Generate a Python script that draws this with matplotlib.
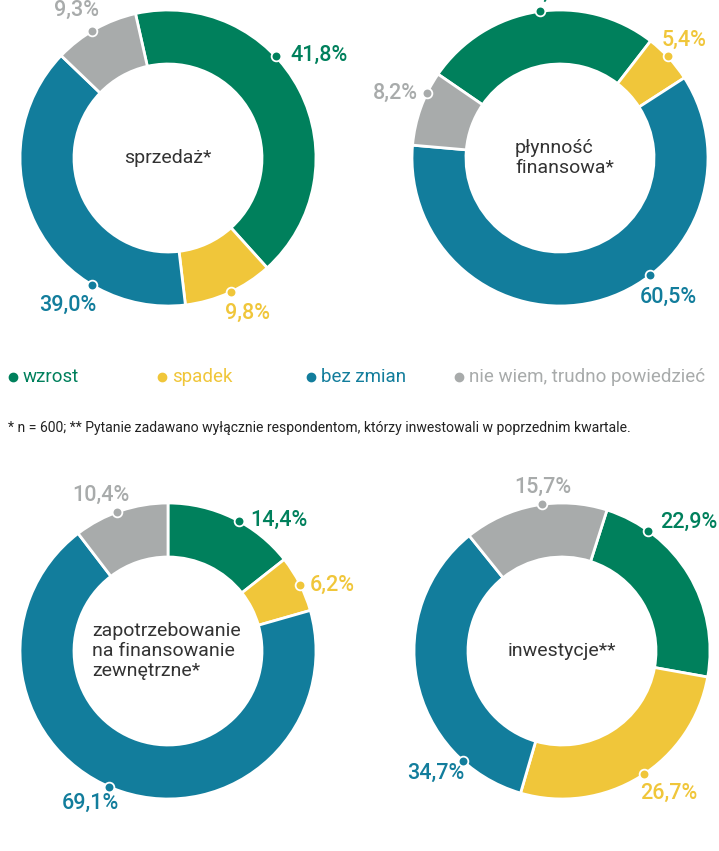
import matplotlib
matplotlib.use('Agg')
import matplotlib.pyplot as plt
import numpy as np

plt.rcParams['font.family'] = ['Roboto', 'DejaVu Sans']

# data
categories = ['wzrost', 'spadek', 'bez zmian', 'nie wiem, trudno powiedzieć']
colors = ['#00805c', '#f0c63a', '#127d9c', '#a8abab']
titles = ['sprzedaż*', 'płynność\nfinansowa*',
          'zapotrzebowanie\nna finansowanie\nzewnętrzne*', 'inwestycje**']
sprzedaz = [41.8, 9.8, 39.0, 9.3]
plynnosc = [25.9, 5.4, 60.5, 8.2]
zapotrzebowanie = [14.4, 6.2, 69.1, 10.4]
inwestycje = [22.9, 26.7, 34.7, 15.7]
footnote = '* n = 600; ** Pytanie zadawano wyłącznie respondentom, którzy inwestowali w poprzednim kwartale.'

W, H = 719, 851
R_OUT, R_IN = 148, 94

# layout (image pixels, y down): center, start angle (deg clockwise from top),
# dot angles, label anchors (x, y, ha), title anchor
layout = [
    dict(c=(168, 158), start=-12.7, dots=[46.6, 155, 210.8, 329.2],
         labels=[(290, 55, 'left'), (225, 313, 'left'), (96, 305, 'right'), (99, 10, 'right')],
         title=(168, 158, 'center')),
    dict(c=(560, 158), start=-55.5, dots=[-7.9, 46.6, 142.4, -63.8],
         labels=[(548, -7, 'center'), (662, 40, 'left'), (640, 297, 'left'), (418, 93, 'right')],
         title=(515, 158, 'left')),
    dict(c=(168, 651), start=0.0, dots=[28.6, 63.4, 203.3, -20.3],
         labels=[(250, 520, 'left'), (310, 585, 'left'), (119, 803, 'right'), (129, 495, 'right')],
         title=(92, 651, 'left')),
    dict(c=(562, 651), start=17.7, dots=[35.6, 146.4, 222.2, -7.7],
         labels=[(660, 522, 'left'), (640, 793, 'left'), (464, 773, 'right'), (543, 487, 'center')],
         title=(562, 651, 'center')),
]
series = [sprzedaz, plynnosc, zapotrzebowanie, inwestycje]

fig = plt.figure(figsize=(W / 100, H / 100), dpi=100)
ax = fig.add_axes([0, 0, 1, 1])

for vals, lay, title in zip(series, layout, titles):
    cx, cy = lay['c'][0], H - lay['c'][1]
    ax.pie(vals, colors=colors, startangle=90 - lay['start'], counterclock=False,
           radius=R_OUT, center=(cx, cy),
           wedgeprops=dict(width=R_OUT - R_IN, edgecolor='white', linewidth=2))
    for v, col, ang, (lx, ly, ha) in zip(vals, colors, lay['dots'], lay['labels']):
        t = np.deg2rad(ang)
        ax.plot(cx + R_OUT * np.sin(t), cy + R_OUT * np.cos(t), 'o', ms=7,
                mfc=col, mec='white', mew=1.3, zorder=5)
        ax.text(lx, H - ly, f'{v:.1f}'.replace('.', ',') + '%', color=col,
                fontsize=15.5, fontweight='medium', ha=ha, va='center')
    tx, ty, tha = lay['title']
    ax.text(tx, H - ty, title, ha=tha, va='center', fontsize=14,
            fontweight='normal', color='#333333', linespacing=1.15,
            multialignment='left')

# legend
leg_x = [13, 162, 311, 459]
for x, lab, col in zip(leg_x, categories, colors):
    ax.plot(x, H - 377, 'o', ms=6, color=col)
    ax.text(x + 10, H - 377, lab, color=col, fontsize=13.5, ha='left', va='center')

ax.text(8, H - 428, footnote, fontsize=10.1, color='#222222', ha='left', va='center')

ax.set_xlim(0, W)
ax.set_ylim(0, H)
ax.set_aspect('equal')
ax.axis('off')
fig.savefig('out.png', dpi=100)
